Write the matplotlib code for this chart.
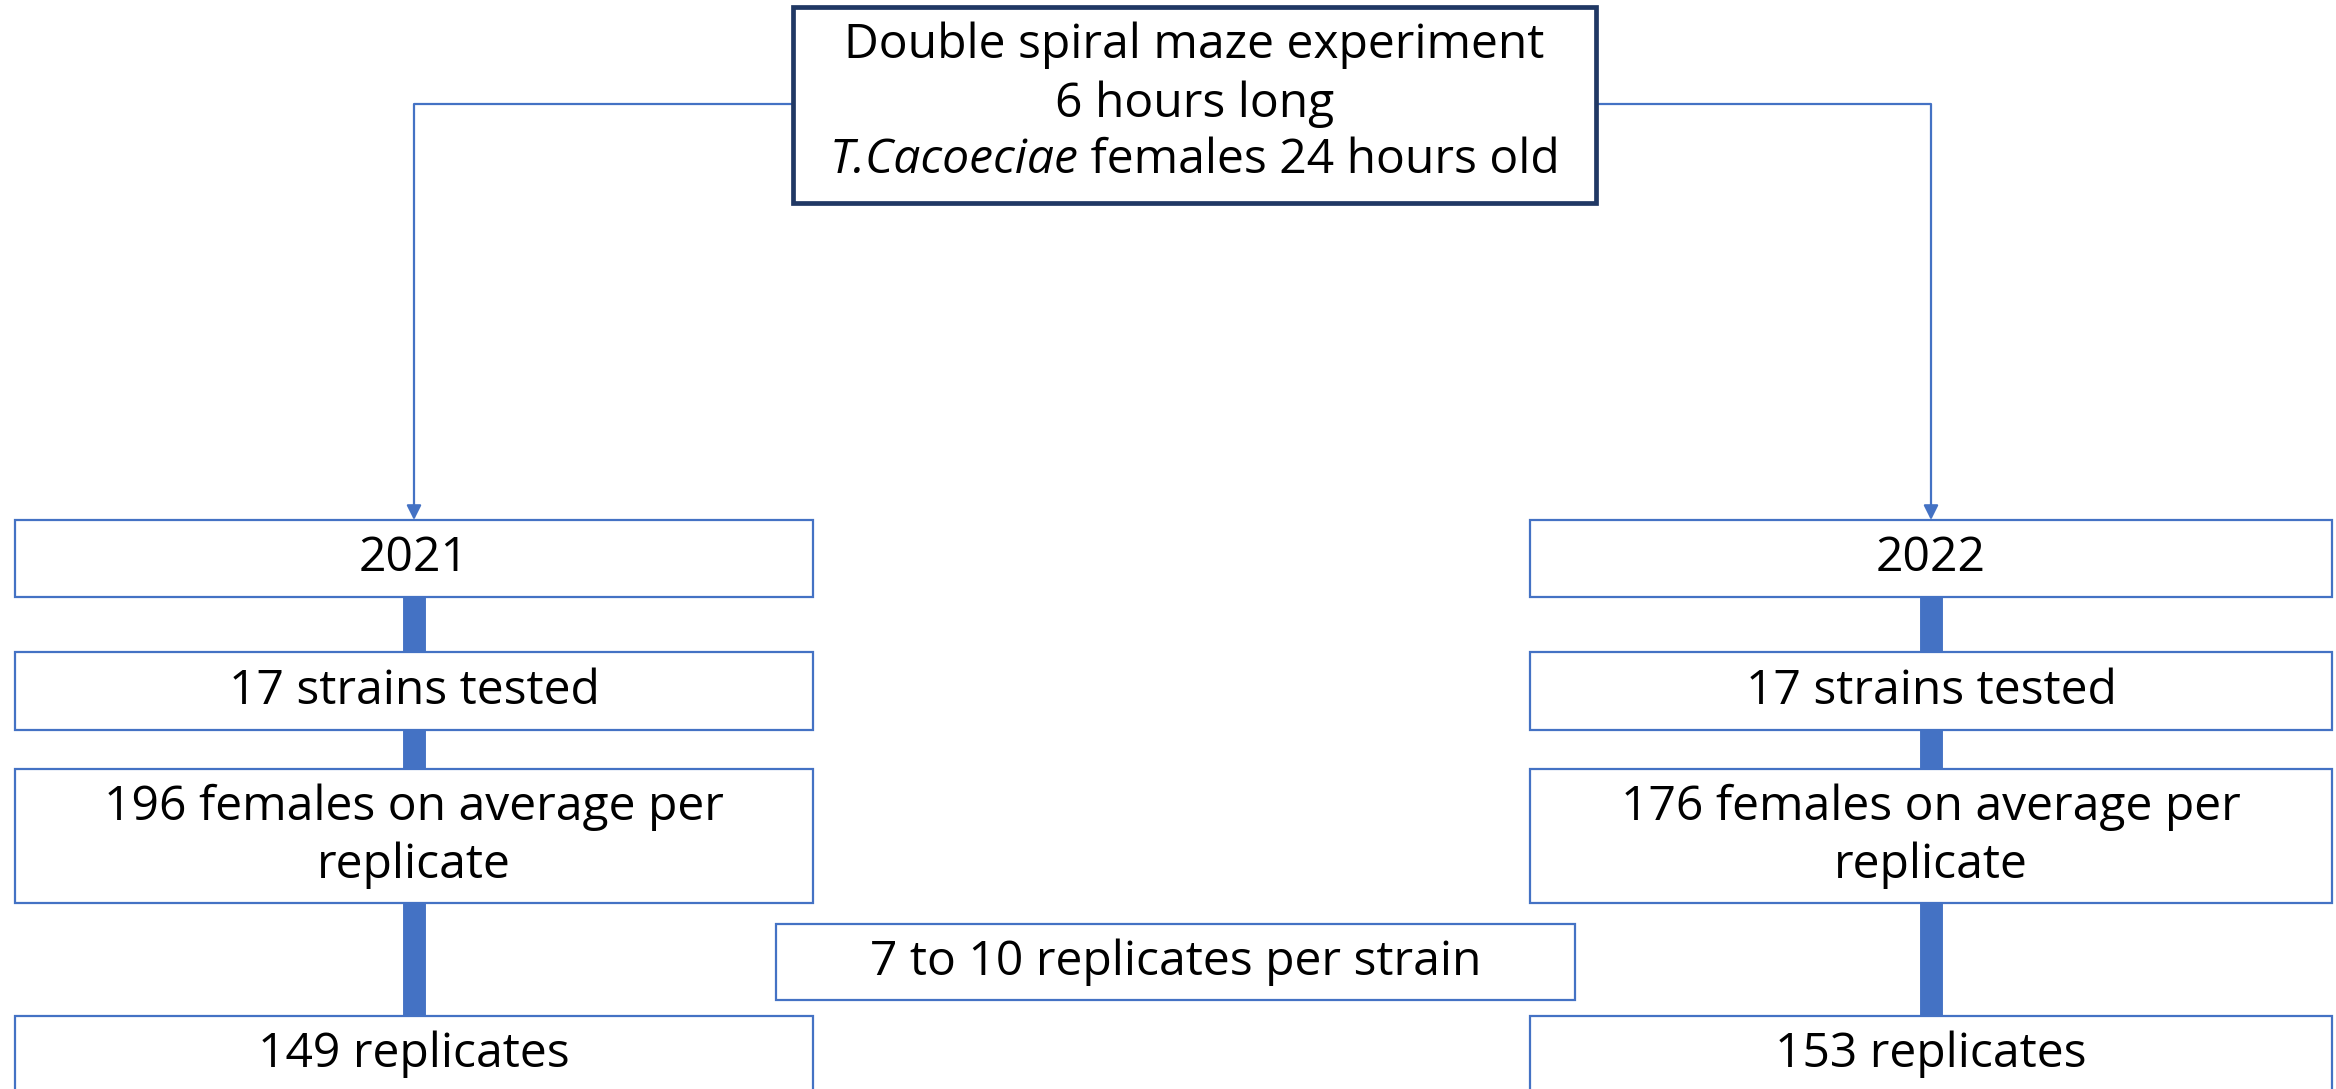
import matplotlib.pyplot as plt
from matplotlib.patches import Rectangle
from matplotlib.offsetbox import TextArea, HPacker, AnnotationBbox

plt.rcParams['font.family'] = ['Open Sans', 'DejaVu Sans']

# box texts
top_lines = ["Double spiral maze experiment", "6 hours long"]
top_last = [("T.Cacoeciae", "italic"), (" females 24 hours old", "normal")]
left_texts = ["2021", "17 strains tested", "196 females on average per\nreplicate", "149 replicates"]
right_texts = ["2022", "17 strains tested", "176 females on average per\nreplicate", "153 replicates"]
middle_text = "7 to 10 replicates per strain"

# layout in pixels (top-left origin)
W, H = 2336, 1089
col_x = [(15, 813), (1530, 2332)]
rows_y = [(520, 597), (652, 730), (769, 903), (1016, 1110)]
top_box = (793, 7, 1596, 203)
top_line_y = [45, 104, 160]
mid_box = (776, 924, 1575, 1000)
blue = '#4472C4'
navy = '#203864'
fs = 34.6

fig = plt.figure(figsize=(W / 100, H / 100), dpi=100)
ax = fig.add_axes([0, 0, 1, 1])
ax.set_xlim(0, W)
ax.set_ylim(H, 0)
ax.axis('off')


def box(x0, y0, x1, y1, text, color=blue, lw=1.6):
    ax.add_patch(Rectangle((x0, y0), x1 - x0, y1 - y0, facecolor='white',
                           edgecolor=color, linewidth=lw, zorder=3))
    if text:
        yc = (y0 + y1) / 2 if y1 <= H else y0 + 38
        ax.text((x0 + x1) / 2, yc, text, ha='center', va='center', fontsize=fs,
                linespacing=1.3, zorder=4)


# thick connectors
for (x0, x1) in col_x:
    xc = (x0 + x1) / 2
    for i in range(len(rows_y) - 1):
        ax.plot([xc, xc], [rows_y[i][1], rows_y[i + 1][0]], color=blue,
                lw=16.5, solid_capstyle='butt', zorder=2)

# thin connectors from top box
ly = 104
for (x0, x1), side in zip(col_x, [top_box[0], top_box[2]]):
    xc = (x0 + x1) / 2
    ax.plot([side, xc, xc], [ly, ly, rows_y[0][0] - 14], color=blue, lw=1.6, zorder=2)
    ax.annotate('', xy=(xc, rows_y[0][0]), xytext=(xc, rows_y[0][0] - 16),
                arrowprops=dict(arrowstyle='-|>', color=blue, lw=1.6,
                                mutation_scale=22, shrinkA=0, shrinkB=0), zorder=2)

# top box
box(*top_box, None, color=navy, lw=3.4)
tx = (top_box[0] + top_box[2]) / 2
for line, y in zip(top_lines, top_line_y):
    ax.text(tx, y, line, ha='center', va='center', fontsize=fs, zorder=4)
parts = [TextArea(t, textprops=dict(fontsize=fs, style=st)) for t, st in top_last]
ab = AnnotationBbox(HPacker(children=parts, pad=0, sep=0, align='baseline'),
                    (tx, top_line_y[2]), box_alignment=(0.5, 0.5), frameon=False,
                    pad=0, zorder=4)
ax.add_artist(ab)

for (x0, x1), texts in zip(col_x, [left_texts, right_texts]):
    for (y0, y1), t in zip(rows_y, texts):
        box(x0, y0, x1, y1, t)
box(*mid_box, middle_text)

fig.savefig('out.png', dpi=100)
